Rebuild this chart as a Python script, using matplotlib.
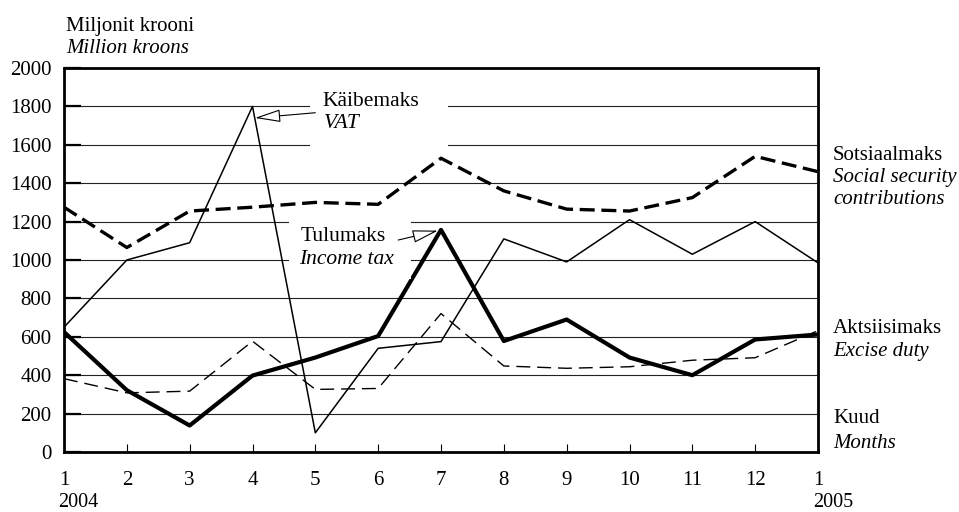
import numpy as np
import matplotlib.pyplot as plt
from matplotlib.patches import Rectangle

plt.rcParams['font.family'] = ['Liberation Serif', 'DejaVu Serif']

months = np.arange(1, 14)
month_labels = ["1", "2", "3", "4", "5", "6", "7", "8", "9", "10", "11", "12", "1"]

# million kroons
vat = [650, 1000, 1090, 1800, 100, 540, 575, 1110, 990, 1210, 1030, 1200, 985]
social = [1275, 1065, 1255, 1275, 1300, 1290, 1530, 1360, 1265, 1255, 1325, 1540, 1460]
income_tax = [625, 322, 138, 398, 492, 604, 1157, 578, 690, 492, 400, 586, 612]
excise = [382, 308, 317, 577, 326, 331, 721, 448, 436, 444, 478, 491, 632]

W, H = 959, 512
fig = plt.figure(figsize=(W / 100, H / 100), dpi=100)
ax = fig.add_axes([64 / W, 1 - 452 / H, (818 - 64) / W, (452 - 68) / H])

ax.set_xlim(1, 13)
ax.set_ylim(0, 2000)
ax.set_yticks(np.arange(0, 2001, 200))
ax.set_xticks(months)
ax.set_xticklabels(month_labels)

ax.yaxis.grid(True, color="#222222", linewidth=0.8, zorder=0)
ax.set_axisbelow(True)

for s in ax.spines.values():
    s.set_linewidth(2.0)
ax.tick_params(axis="y", direction="in", length=12, width=1.6, labelsize=15, pad=9)
ax.tick_params(axis="x", direction="in", length=6, width=0.8, labelsize=15, pad=14)

# white boxes behind the in-plot labels
ax.add_patch(Rectangle((4.92, 1575), 2.19, 285, facecolor="white", edgecolor="none", zorder=2.5))
ax.add_patch(Rectangle((4.58, 900), 1.95, 335, facecolor="white", edgecolor="none", zorder=2.5))

ax.plot(months, vat, color="black", linewidth=1.1, zorder=2)
ax.plot(months, social, color="black", linewidth=2.4, dashes=(4.5, 2), zorder=2)
ax.plot(months, income_tax, color="black", linewidth=3.0, zorder=2)
ax.plot(months, excise, color="black", linewidth=1.0, dashes=(10, 5), zorder=2)

LS = 15

# in-plot labels with open arrows
ax.text(5.11, 1802, "Käibemaks", fontsize=15.5, zorder=3)
ax.text(5.13, 1687, "VAT", fontsize=15.5, style="italic", zorder=3)
ax.annotate("", xy=(4.04, 1740), xytext=(5.0, 1767),
            arrowprops=dict(arrowstyle="-|>,head_length=1.6,head_width=0.4",
                            fc="white", ec="black", lw=0.8, shrinkA=0, shrinkB=0),
            zorder=4)
ax.text(4.76, 1100, "Tulumaks", fontsize=15.5, zorder=3)
ax.text(4.74, 979, "Income tax", fontsize=15.5, style="italic", zorder=3)
ax.annotate("", xy=(6.95, 1153), xytext=(6.32, 1104),
            arrowprops=dict(arrowstyle="-|>,head_length=1.6,head_width=0.4",
                            fc="white", ec="black", lw=0.8, shrinkA=0, shrinkB=0),
            zorder=4)

# labels outside the axes
def ftext(x, y, s, italic=False):
    fig.text(x / W, 1 - y / H, s, fontsize=LS, style="italic" if italic else "normal",
             ha="left", va="baseline")

ftext(66, 31, "Miljonit krooni")
ftext(66, 53, "Million kroons", italic=True)
ftext(833, 160, "Sotsiaalmaks")
ftext(833, 182, "Social security", italic=True)
ftext(833, 204, "contributions", italic=True)
ftext(833, 333, "Aktsiisimaks")
ftext(833, 356, "Excise duty", italic=True)
ftext(833, 423, "Kuud")
ftext(833, 448, "Months", italic=True)

fig.text(58 / W, 1 - 507 / H, "2004", fontsize=14.5, ha="left", va="baseline")
fig.text(813 / W, 1 - 507 / H, "2005", fontsize=14.5, ha="left", va="baseline")

fig.savefig("out.png", dpi=100)
